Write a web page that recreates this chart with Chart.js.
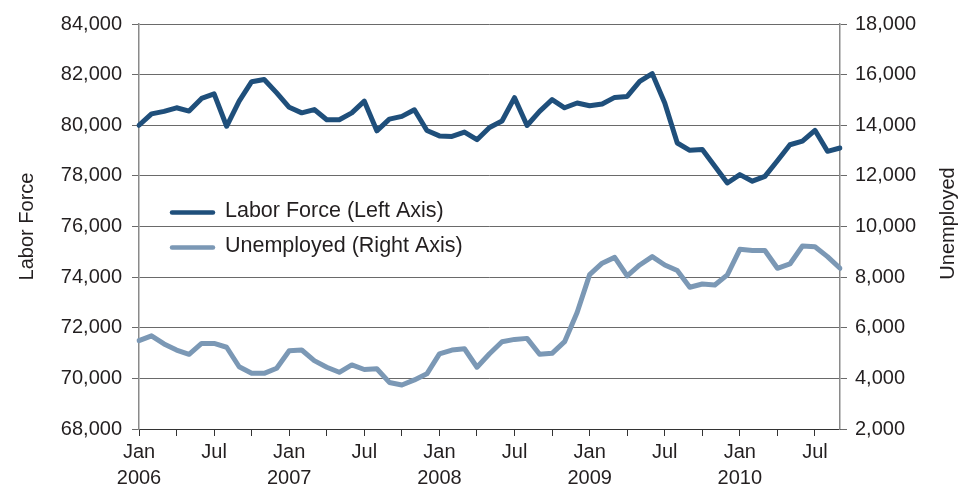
<!DOCTYPE html>
<html>
<head>
<meta charset="utf-8">
<script src="https://cdn.jsdelivr.net/npm/chart.js@4"></script>
<style>
  html, body { margin: 0; padding: 0; background: #ffffff; }
  #wrap { width: 971px; height: 489px; }
</style>
</head>
<body>
<div id="wrap"><canvas id="c" width="971" height="489"></canvas></div>
<script>
// ---- data ----
const monthNames = ['Jan','Feb','Mar','Apr','May','Jun','Jul','Aug','Sep','Oct','Nov','Dec'];
const years = [2006, 2007, 2008, 2009, 2010];
const lastMonthIndex2010 = 8; // Sep 2010

const laborForce = [
  80000, 80450, 80550, 80690, 80560, 81060, 81240, 79960, 80950, 81720, 81810, 81280,
  80710, 80490, 80620, 80220, 80220, 80490, 80950, 79780, 80240, 80350, 80610, 79790,
  79580, 79560, 79730, 79430, 79910, 80170, 81090, 79990, 80550, 81010, 80690, 80880,
  80770, 80840, 81100, 81140, 81730, 82040, 80880, 79300, 79010, 79040, 78380, 77720,
  78050, 77790, 77980, 78600, 79230, 79370, 79800, 78970, 79100
];
const unemployed = [
  5490, 5680, 5360, 5120, 4950, 5380, 5380, 5230, 4460, 4200, 4200, 4400,
  5090, 5120, 4700, 4440, 4240, 4530, 4350, 4380, 3840, 3740, 3940, 4180,
  4970, 5120, 5170, 4440, 4970, 5450, 5540, 5580, 4950, 4990, 5450, 6600,
  8100, 8550, 8780, 8050, 8480, 8810, 8480, 8260, 7600, 7730, 7690, 8090,
  9100, 9050, 9050, 8350, 8520, 9230, 9200, 8810, 8350
];
const seriesNames = ['Labor Force (Left Axis)', 'Unemployed (Right Axis)'];
const leftTitle = 'Labor Force';
const rightTitle = 'Unemployed';
const leftRange = [68000, 84000, 2000];
const rightRange = [2000, 18000, 2000];

// categories built from month names and years
const categories = [];
years.forEach(y => {
  monthNames.forEach((m, mi) => {
    if (y === 2010 && mi > lastMonthIndex2010) return;
    categories.push({ m, y });
  });
});

const FONT = "'Liberation Sans', Arial, Helvetica, sans-serif";
const TEXT = '#231f20';
const GRID = '#6a6a6a';
const fmt = v => Number(v).toLocaleString('en-US');

const legendPlugin = {
  id: 'insideLegend',
  afterDraw(chart) {
    const ctx = chart.ctx;
    const ca = chart.chartArea;
    const x0 = ca.left + 33, x1 = ca.left + 74, tx = ca.left + 86;
    const ys = [ca.top + 188.5, ca.top + 223.5];
    ctx.save();
    chart.data.datasets.forEach((ds, i) => {
      ctx.strokeStyle = ds.borderColor;
      ctx.lineWidth = 4.5;
      ctx.lineCap = 'round';
      ctx.beginPath();
      ctx.moveTo(x0, ys[i]);
      ctx.lineTo(x1, ys[i]);
      ctx.stroke();
      ctx.fillStyle = TEXT;
      ctx.font = '21.5px ' + FONT;
      ctx.textAlign = 'left';
      ctx.textBaseline = 'middle';
      ctx.fillText(ds.label, tx, ys[i] - 1);
    });
    // right axis title, reading bottom-to-top
    ctx.translate(948, (ca.top + ca.bottom) / 2 - 3);
    ctx.rotate(-Math.PI / 2);
    ctx.font = '20px ' + FONT;
    ctx.textAlign = 'center';
    ctx.textBaseline = 'middle';
    ctx.fillStyle = TEXT;
    ctx.fillText(rightTitle, 0, 0);
    ctx.restore();
  }
};

new Chart(document.getElementById('c'), {
  type: 'line',
  data: {
    labels: categories.map(c => c.m + ' ' + c.y),
    datasets: [
      {
        label: seriesNames[0],
        data: laborForce,
        yAxisID: 'y',
        borderColor: '#1f4f7b',
        borderWidth: 5,
        pointRadius: 0,
        tension: 0,
        borderJoinStyle: 'round',
        borderCapStyle: 'round'
      },
      {
        label: seriesNames[1],
        data: unemployed,
        yAxisID: 'y1',
        borderColor: '#7b98b5',
        borderWidth: 5,
        pointRadius: 0,
        tension: 0,
        borderJoinStyle: 'round',
        borderCapStyle: 'round'
      }
    ]
  },
  options: {
    responsive: false,
    animation: false,
    devicePixelRatio: 1,
    layout: { padding: { top: 24, left: 0, right: 0, bottom: 0 } },
    plugins: {
      legend: { display: false },
      tooltip: { enabled: false }
    },
    scales: {
      x: {
        type: 'category',
        offset: false,
        afterFit: s => { s.height = 60; },
        grid: {
          display: true,
          drawOnChartArea: false,
          drawTicks: true,
          tickLength: 7,
          tickColor: ctx => (ctx.index % 3 === 0 ? '#333333' : 'rgba(0,0,0,0)'),
          color: 'rgba(0,0,0,0)'
        },
        border: { display: true, color: '#333333', width: 1 },
        ticks: {
          autoSkip: false,
          maxRotation: 0,
          minRotation: 0,
          padding: 4,
          color: TEXT,
          font: { family: FONT, size: 20, lineHeight: 1.28 },
          callback: (v, i) => {
            const c = categories[i];
            if (c.m === 'Jan') return ['Jan', String(c.y)];
            if (c.m === 'Jul') return 'Jul';
            return '';
          }
        }
      },
      y: {
        position: 'left',
        min: leftRange[0],
        max: leftRange[1],
        afterFit: s => { s.width = 139; },
        grid: {
          color: GRID,
          lineWidth: 1,
          drawTicks: true,
          tickLength: 7,
          tickColor: GRID
        },
        border: { display: true, color: '#8a8a8a', width: 1.5 },
        ticks: {
          stepSize: leftRange[2],
          padding: 10,
          color: TEXT,
          font: { family: FONT, size: 20 },
          callback: v => fmt(v)
        },
        title: {
          display: true,
          text: leftTitle,
          color: TEXT,
          font: { family: FONT, size: 20, lineHeight: 1.2 },
          padding: { top: 15, bottom: 0 }
        }
      },
      y1: {
        position: 'right',
        min: rightRange[0],
        max: rightRange[1],
        afterFit: s => { s.width = 131; },
        grid: {
          drawOnChartArea: false,
          drawTicks: true,
          tickLength: 7,
          tickColor: GRID,
          color: GRID
        },
        border: { display: true, color: '#8a8a8a', width: 1.5 },
        ticks: {
          stepSize: rightRange[2],
          padding: 8,
          color: TEXT,
          font: { family: FONT, size: 20 },
          callback: v => fmt(v)
        }
      }
    }
  },
  plugins: [legendPlugin]
});
</script>
</body>
</html>
